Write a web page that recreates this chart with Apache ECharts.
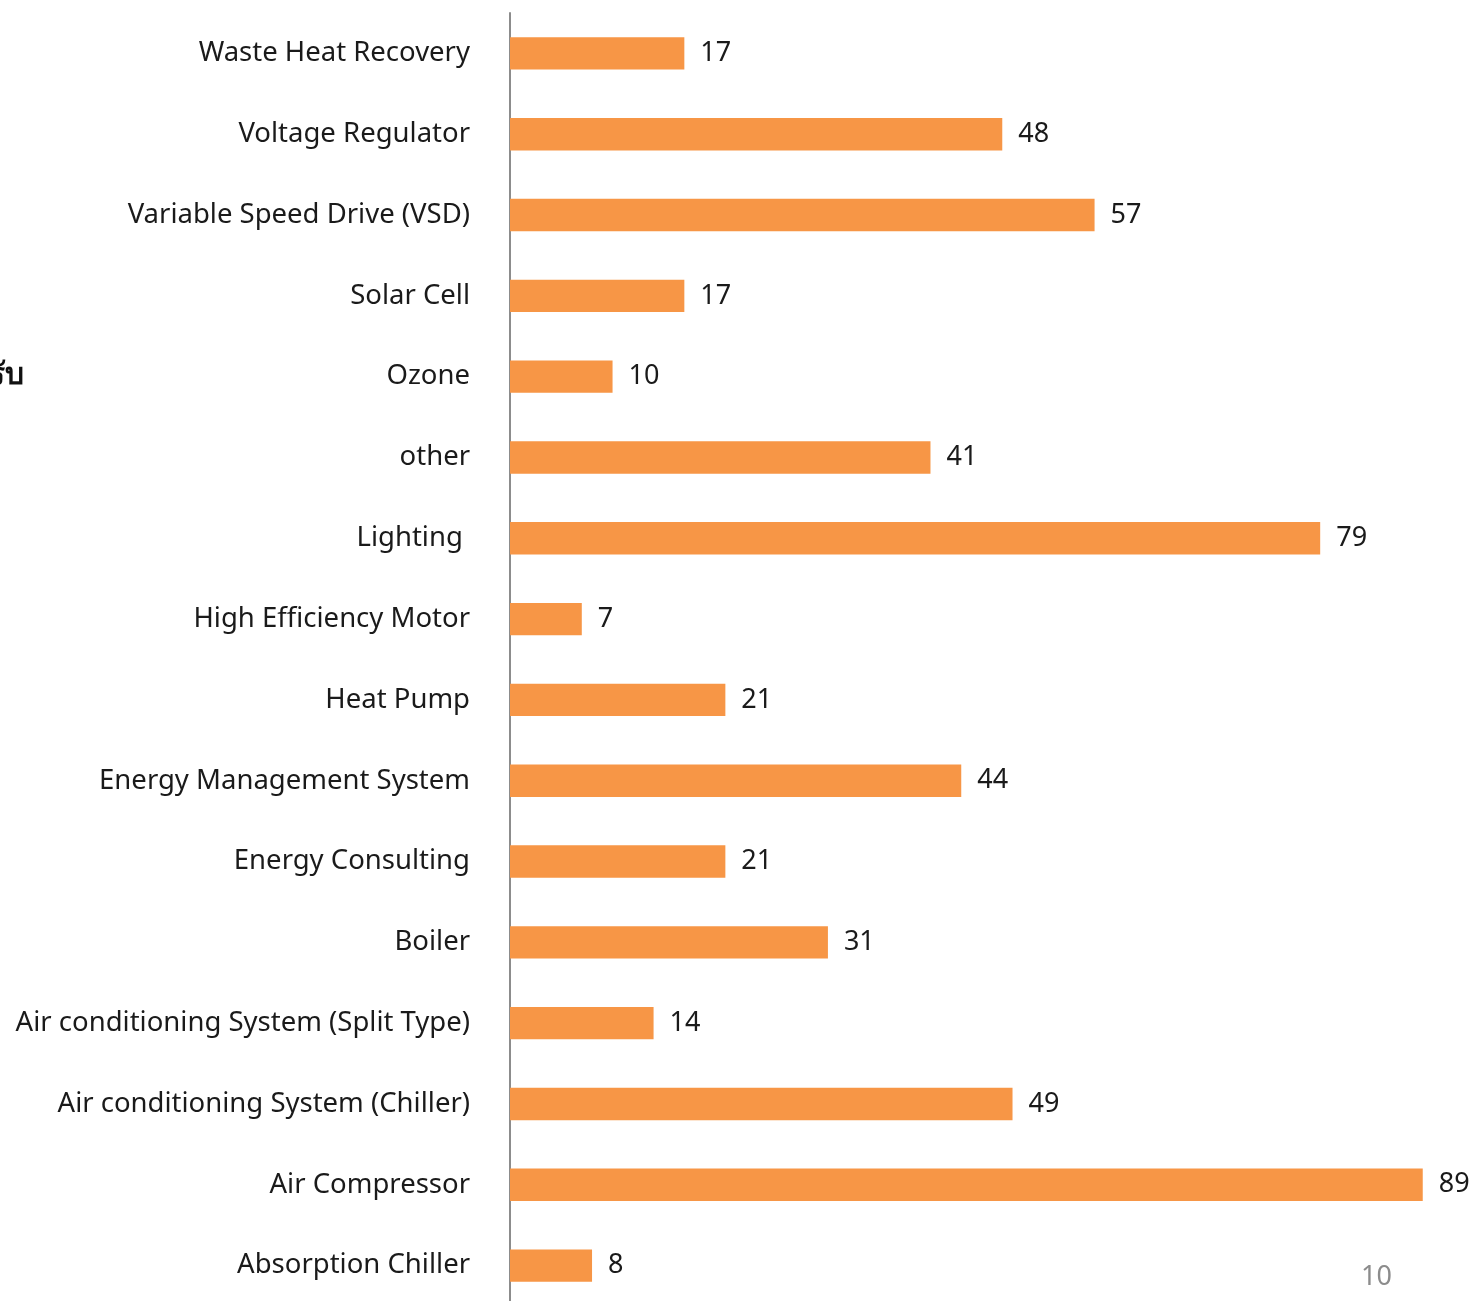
<!DOCTYPE html>
<html>
<head>
<meta charset="utf-8">
<script src="https://cdn.jsdelivr.net/npm/echarts@6/dist/echarts.min.js"></script>
<style>
    html, body { margin: 0; padding: 0; background: #fff; }
    #chart { width: 1473px; height: 1301px; }
</style>
</head>
<body>
<div id="chart"></div>
<script>
// top to bottom, as in the picture
const categories = [
    "Waste Heat Recovery",
    "Voltage Regulator",
    "Variable Speed Drive (VSD)",
    "Solar Cell",
    "Ozone",
    "other",
    "Lighting ",
    "High Efficiency Motor",
    "Heat Pump",
    "Energy Management System",
    "Energy Consulting",
    "Boiler",
    "Air conditioning System (Split Type)",
    "Air conditioning System (Chiller)",
    "Air Compressor",
    "Absorption Chiller",
];
const counts = [17, 48, 57, 17, 10, 41, 79, 7, 21, 44, 21, 31, 14, 49, 89, 8];
const pageNumber = "10";
const sideText = "ได้รับ";

const chart = echarts.init(document.getElementById("chart"));
const font = "'Noto Sans', sans-serif";

chart.setOption({
    backgroundColor: "#fff",
    animation: false,
    grid: {
        left: 510,
        right: 40,
        top: 13,
        height: 1293,
        containLabel: false,
        outerBoundsMode: "none",
    },
    xAxis: {
        type: "value",
        min: 0,
        max: 90,
        show: false,
    },
    yAxis: {
        type: "category",
        inverse: true,
        data: categories,
        axisLine: { lineStyle: { color: "#8c8c8c", width: 2 } },
        axisTick: { show: false },
        axisLabel: {
            margin: 40,
            color: "#1a1a1a",
            fontFamily: font,
            fontSize: 27.5,
            padding: [0, 0, 22, 0],
        },
    },
    series: [
        {
            type: "bar",
            data: counts,
            barCategoryGap: "60%",
            itemStyle: { color: "#f79646" },
            label: {
                show: true,
                position: "right",
                distance: 16,
                color: "#1a1a1a",
                fontFamily: font,
                fontSize: 27,
                padding: [10, 0, 0, 0],
            },
        },
    ],
    graphic: [
        {
            type: "text",
            right: 1473 - 24,
            top: 358,
            style: {
                text: sideText,
                fill: "#111",
                font: "bold 30px 'Noto Sans CJK SC', 'Noto Sans', sans-serif",
                textAlign: "right",
            },
        },
        {
            type: "text",
            left: 1361,
            top: 1264,
            style: {
                text: pageNumber,
                fill: "#8c8c8c",
                font: "27px 'Noto Sans', sans-serif",
            },
        },
    ],
});
</script>
</body>
</html>
